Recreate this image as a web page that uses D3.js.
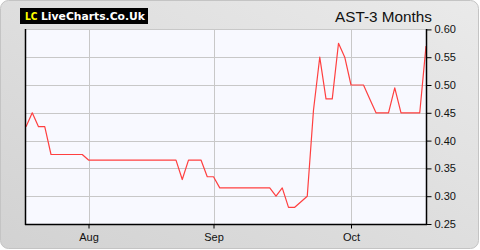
<!DOCTYPE html>
<html>
<head>
<meta charset="utf-8">
<script src="https://cdn.jsdelivr.net/npm/d3@7"></script>
<style>
  html, body { margin: 0; padding: 0; background: #fff; }
  svg { display: block; }
</style>
</head>
<body>
<div id="chart"></div>
<script>
// trading days, Jul 18 - Oct 17
const dates = [
  "2025-07-18", "2025-07-21", "2025-07-22", "2025-07-23", "2025-07-24", "2025-07-25",
  "2025-07-28", "2025-07-29", "2025-07-30", "2025-07-31",
  "2025-08-01", "2025-08-04", "2025-08-05", "2025-08-06", "2025-08-07", "2025-08-08",
  "2025-08-11", "2025-08-12", "2025-08-13", "2025-08-14", "2025-08-15",
  "2025-08-18", "2025-08-19", "2025-08-20", "2025-08-21", "2025-08-22",
  "2025-08-26", "2025-08-27", "2025-08-28", "2025-08-29",
  "2025-09-01", "2025-09-02", "2025-09-03", "2025-09-04", "2025-09-05",
  "2025-09-08", "2025-09-09", "2025-09-10", "2025-09-11", "2025-09-12",
  "2025-09-15", "2025-09-16", "2025-09-17", "2025-09-18", "2025-09-19",
  "2025-09-22", "2025-09-23", "2025-09-24", "2025-09-25", "2025-09-26",
  "2025-09-29", "2025-09-30",
  "2025-10-01", "2025-10-02", "2025-10-03", "2025-10-06", "2025-10-07", "2025-10-08",
  "2025-10-09", "2025-10-10", "2025-10-13", "2025-10-14", "2025-10-15", "2025-10-16",
  "2025-10-17"
];

const prices = [
  0.425, 0.45, 0.425, 0.425, 0.375, 0.375, 0.375, 0.375, 0.375, 0.375,
  0.365, 0.365, 0.365, 0.365, 0.365, 0.365, 0.365, 0.365, 0.365, 0.365,
  0.365, 0.365, 0.365, 0.365, 0.365, 0.33, 0.365, 0.365, 0.365, 0.335,
  0.335, 0.315, 0.315, 0.315, 0.315, 0.315, 0.315, 0.315, 0.315, 0.315,
  0.30, 0.315, 0.28, 0.28, 0.29, 0.30, 0.455, 0.55, 0.475, 0.475,
  0.575, 0.55, 0.50, 0.50, 0.50, 0.475, 0.45, 0.45, 0.45, 0.495,
  0.45, 0.45, 0.45, 0.45, 0.57
];

const monthTicks = ["2025-08-01", "2025-09-01", "2025-10-01"];
const monthLabels = ["Aug", "Sep", "Oct"];
const yTicks = [0.25, 0.30, 0.35, 0.40, 0.45, 0.50, 0.55, 0.60];

const W = 480, H = 250;
const plot = {left: 25, right: 426, top: 29, bottom: 224};

const svg = d3.select("#chart").append("svg")
  .attr("width", W)
  .attr("height", H);

const defs = svg.append("defs");
const grad = defs.append("linearGradient")
  .attr("id", "bg")
  .attr("x1", "100%").attr("y1", "0%")
  .attr("x2", "0%").attr("y2", "100%");
grad.append("stop").attr("offset", "0%").attr("stop-color", "#eaeaea");
grad.append("stop").attr("offset", "100%").attr("stop-color", "#d2d2d2");

// panel
svg.append("rect")
  .attr("x", 0.5).attr("y", 0.5)
  .attr("width", W - 2).attr("height", H - 2)
  .attr("rx", 8).attr("ry", 8)
  .attr("fill", "url(#bg)")
  .attr("stroke", "#c4c4c4");

// logo
const logo = svg.append("g").attr("transform", "translate(20, 8)");
logo.append("rect")
  .attr("width", 128).attr("height", 16)
  .attr("fill", "#000");
logo.append("text")
  .attr("x", 5).attr("y", 12.3)
  .attr("font-family", "DejaVu Sans, Verdana, sans-serif")
  .attr("font-weight", "bold")
  .attr("font-size", 11)
  .attr("fill", "#ffff00")
  .attr("textLength", 12.5)
  .attr("lengthAdjust", "spacingAndGlyphs")
  .text("LC");
logo.append("text")
  .attr("x", 21).attr("y", 12.3)
  .attr("font-family", "DejaVu Sans, Verdana, sans-serif")
  .attr("font-weight", "bold")
  .attr("font-size", 11)
  .attr("fill", "#fff")
  .attr("textLength", 104)
  .attr("lengthAdjust", "spacingAndGlyphs")
  .text("LiveCharts.Co.Uk");

// title
svg.append("text")
  .attr("x", 432).attr("y", 22)
  .attr("text-anchor", "end")
  .attr("font-family", "Liberation Sans, Arial, sans-serif")
  .attr("font-size", 15.3)
  .attr("fill", "#111")
  .text("AST-3 Months");

// scales
const x = d3.scalePoint()
  .domain(dates)
  .range([26, 426]);

const y = d3.scaleLinear()
  .domain([0.25, 0.60])
  .range([plot.bottom, plot.top + 0.4]);

// plot background
svg.append("rect")
  .attr("x", plot.left).attr("y", plot.top)
  .attr("width", plot.right - plot.left)
  .attr("height", plot.bottom - plot.top)
  .attr("fill", "#f8f9ff");

// grid
const grid = svg.append("g")
  .attr("stroke", "#c8c8c8")
  .attr("stroke-width", 1);

grid.selectAll(".hgrid")
  .data(yTicks.slice(1))
  .join("line")
  .attr("class", "hgrid")
  .attr("x1", plot.left).attr("x2", plot.right)
  .attr("y1", d => Math.round(y(d)) + 0.5)
  .attr("y2", d => Math.round(y(d)) + 0.5);

grid.selectAll(".vgrid")
  .data(monthTicks)
  .join("line")
  .attr("class", "vgrid")
  .attr("x1", d => Math.round(x(d)) + 0.5)
  .attr("x2", d => Math.round(x(d)) + 0.5)
  .attr("y1", plot.top).attr("y2", plot.bottom);

// price line
svg.append("path")
  .datum(prices)
  .attr("fill", "none")
  .attr("stroke", "#ff4040")
  .attr("stroke-width", 1.2)
  .attr("stroke-linejoin", "round")
  .attr("d", d3.line()
    .x((d, i) => x(dates[i]))
    .y(d => y(d)));

// axes
const yAxis = d3.axisRight(y)
  .tickValues(yTicks)
  .tickSize(5)
  .tickPadding(3)
  .tickFormat(d3.format(".2f"));

const xAxis = d3.axisBottom(x)
  .tickValues(monthTicks)
  .tickSize(4)
  .tickPadding(5)
  .tickFormat((d, i) => monthLabels[i]);

const gy = svg.append("g")
  .attr("transform", `translate(${plot.right + 0.5}, 0)`)
  .call(yAxis);

const gx = svg.append("g")
  .attr("transform", `translate(0, ${plot.bottom + 0.5})`)
  .call(xAxis);

[gx, gy].forEach(g => {
  g.select(".domain").remove();
  g.selectAll(".tick line").attr("stroke", "#000");
  g.selectAll(".tick text")
    .attr("fill", "#111")
    .attr("font-family", "Liberation Sans, Arial, sans-serif")
    .attr("font-size", 11);
});

// frame lines
svg.append("line")
  .attr("x1", plot.left + 0.5).attr("x2", plot.left + 0.5)
  .attr("y1", plot.top).attr("y2", plot.bottom + 1)
  .attr("stroke", "#000").attr("stroke-width", 1.5);
svg.append("line")
  .attr("x1", plot.left).attr("x2", plot.right + 1)
  .attr("y1", plot.bottom + 0.5).attr("y2", plot.bottom + 0.5)
  .attr("stroke", "#000").attr("stroke-width", 1.5);
svg.append("line")
  .attr("x1", plot.right + 0.5).attr("x2", plot.right + 0.5)
  .attr("y1", plot.top).attr("y2", plot.bottom + 1)
  .attr("stroke", "#000").attr("stroke-width", 1.5);
</script>
</body>
</html>
